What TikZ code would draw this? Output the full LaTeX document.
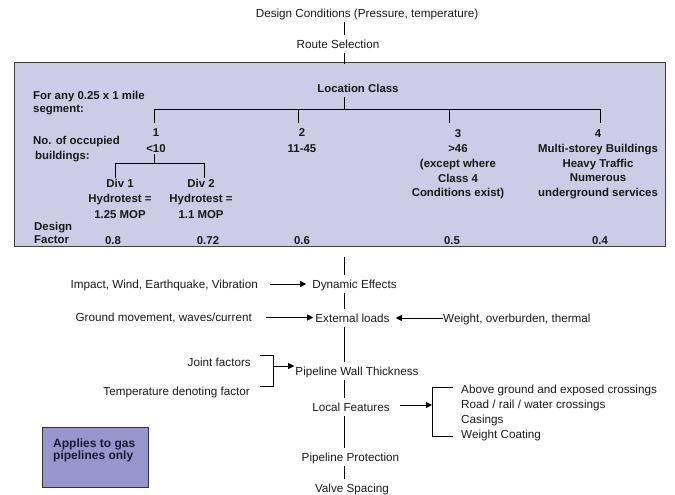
\documentclass[tikz,border=0pt]{standalone}
\usepackage{fontspec}
\setmainfont{Liberation Sans}
\usetikzlibrary{arrows.meta,calc}
\definecolor{boxfill}{RGB}{204,204,230}
\definecolor{legfill}{RGB}{150,150,204}
\definecolor{ink}{RGB}{25,25,25}
\definecolor{navy}{RGB}{25,25,60}
\begin{document}
\begin{tikzpicture}[x=1pt,y=-1pt,
  lbl/.style={font=\fontsize{11.7}{14}\selectfont, text=ink, inner xsep=0pt, inner ysep=5pt, text height=8.3pt, text depth=0pt},
  blbl/.style={lbl, font=\fontsize{11.4}{14}\selectfont\bfseries},
  mlbl/.style={font=\fontsize{11.4}{#1}\selectfont\bfseries, text=ink, inner sep=0pt, align=center, anchor=north},
  llbl/.style={font=\fontsize{11.4}{#1}\selectfont\bfseries, text=ink, inner sep=0pt, align=left, anchor=north west},
  ln/.style={draw=black, line width=0.9pt},
  arr/.style={ln, -{Triangle[length=6pt,width=6pt]}},
  panel/.style={draw=black!75, line width=1.3pt, fill=boxfill, inner sep=0pt, anchor=north west},
  legend/.style={draw=black!80, line width=1pt, fill=legfill, inner sep=0pt, anchor=north west}
]
\path[use as bounding box] (0,0) rectangle (675,495);

% spine x reference
\coordinate (spx) at (344,0);

% panel
\node[panel, minimum width=651pt, minimum height=184pt] (panel) at (14,62) {};

% top chain
\node[lbl] (dc) at (367,13) {Design Conditions (Pressure, temperature)};
\node[lbl] (rs) at (338,44) {Route Selection};
\draw[ln] (dc.south -| spx) -- (rs.north -| spx);
\draw[ln] (rs.south -| spx) -- ([yshift=-2pt]panel.north -| spx);

% location class tree
\node[blbl] (lc) at (358,88) {Location Class};
\coordinate (bar) at (344,109);
\coordinate (k1) at (154,123);
\coordinate (k2) at (298,123);
\coordinate (k3) at (449,123);
\coordinate (k4) at (600,123);
\draw[ln] (lc.south -| spx) -- (bar);
\draw[ln] (k1) -- (k1 |- bar) -- (k4 |- bar) -- (k4);
\draw[ln] (k2) -- (k2 |- bar);
\draw[ln] (k3) -- (k3 |- bar);

\node[mlbl=16] (c1) at (156,128.5) {1\\<10};
\node[mlbl=15.5] (c2) at (302,128.5) {2\\11-45};
\node[mlbl=14.8] (c3) at (458,129.5) {3\\>46\\(except where\\Class 4\\Conditions exist)};
\node[mlbl=14.8] (c4) at (598,129.5) {4\\Multi-storey Buildings\\Heavy Traffic\\Numerous\\underground services};

% Div sub-tree
\coordinate (sb) at (154,163);
\coordinate (j1) at (115,178);
\coordinate (j2) at (204,178);
\draw[ln] ([yshift=-1pt]c1.south -| k1) -- (sb);
\draw[ln] (j1) -- (j1 |- sb) -- (j2 |- sb) -- (j2);
\node[mlbl=15.5] (d1) at (120,179) {Div 1\\Hydrotest =\\1.25 MOP};
\node[mlbl=15.5] (d2) at (201,179) {Div 2\\Hydrotest =\\1.1 MOP};

% left notes in panel
\node[llbl=13] (n1) at (33,91) {For any 0.25 x 1 mile\\segment:};
\node[llbl=15] (n2) at (33,136) {No. of occupied\\\hspace*{2pt}buildings:};
\node[llbl=12.5] (n3) at (34,222.5) {Design\\Factor};

% design factors
\node[blbl] (f1) at (113,240) {0.8};
\node[blbl] (f2) at (208,240) {0.72};
\node[blbl] (f3) at (302,240) {0.6};
\node[blbl] (f4) at (452,240) {0.5};
\node[blbl] (f5) at (600,240) {0.4};

% lower chain
\coordinate (sp0) at (344,257);
\node[lbl] (de) at (354.5,284) {Dynamic Effects};
\node[lbl] (el) at (352.5,318) {External loads};
\node[lbl] (pw) at (357,371) {Pipeline Wall Thickness};
\node[lbl] (lf) at (351,407) {Local Features};
\node[lbl] (pp) at (350.5,457) {Pipeline Protection};
\node[lbl] (vs) at (352,488) {Valve Spacing};
\draw[ln] (sp0) -- (de.north -| spx);
\draw[ln] (de.south -| spx) -- (el.north -| spx);
\draw[ln] (el.south -| spx) -- (pw.north -| spx);
\draw[ln] (pw.south -| spx) -- (lf.north -| spx);
\draw[ln] (lf.south -| spx) -- (pp.north -| spx);
\draw[ln] (pp.south -| spx) -- (vs.north -| spx);

% side inputs
\node[lbl, anchor=east] (imp) at (258,284) {Impact, Wind, Earthquake, Vibration};
\draw[arr, shorten <=12pt, shorten >=6pt] (imp.east) -- (de.west);
\node[lbl, anchor=east] (gm) at (252,317.5) {Ground movement, waves/current};
\draw[arr, shorten <=14pt, shorten >=2pt] (gm.east) -- (el.west |- gm.east);
\node[lbl, anchor=west] (wt) at (443,318) {Weight, overburden, thermal};
\draw[arr, shorten >=6pt] (wt.west) -- (el.east);

\node[lbl, anchor=east] (jf) at (251,362) {Joint factors};
\node[lbl, anchor=east] (tf) at (250,391) {Temperature denoting factor};
\coordinate (bj) at (260,355);
\coordinate (bt) at (260,386);
\coordinate (bm) at (273,366);
\draw[ln] (bj) -- (bj -| bm) -- (bt -| bm) -- (bt);
\draw[arr, shorten >=1pt] (bm) -- (pw.west |- bm);

% local features list
\node[lbl, anchor=north west, align=left, text height=, text depth=, inner sep=0pt, font=\fontsize{11.7}{15}\selectfont] (lst) at (461,384.8)
  {Above ground and exposed crossings\\Road / rail / water crossings\\Casings\\Weight Coating};
\coordinate (lb1) at (453,387);
\coordinate (lb2) at (453,436);
\coordinate (lbx) at (432,405);
\draw[ln] (lb1) -- (lb1 -| lbx) -- (lb2 -| lbx) -- (lb2);
\draw[arr, shorten <=10pt] (lf.east |- lbx) -- (lbx);

% legend
\node[legend, minimum width=106pt, minimum height=60pt] (leg) at (42,427) {};
\node[anchor=north west, inner sep=0pt, align=left, text=navy, font=\fontsize{12}{12.5}\selectfont\bfseries] (legt) at (53,438.5) {Applies to gas\\pipelines only};
\end{tikzpicture}
\end{document}
